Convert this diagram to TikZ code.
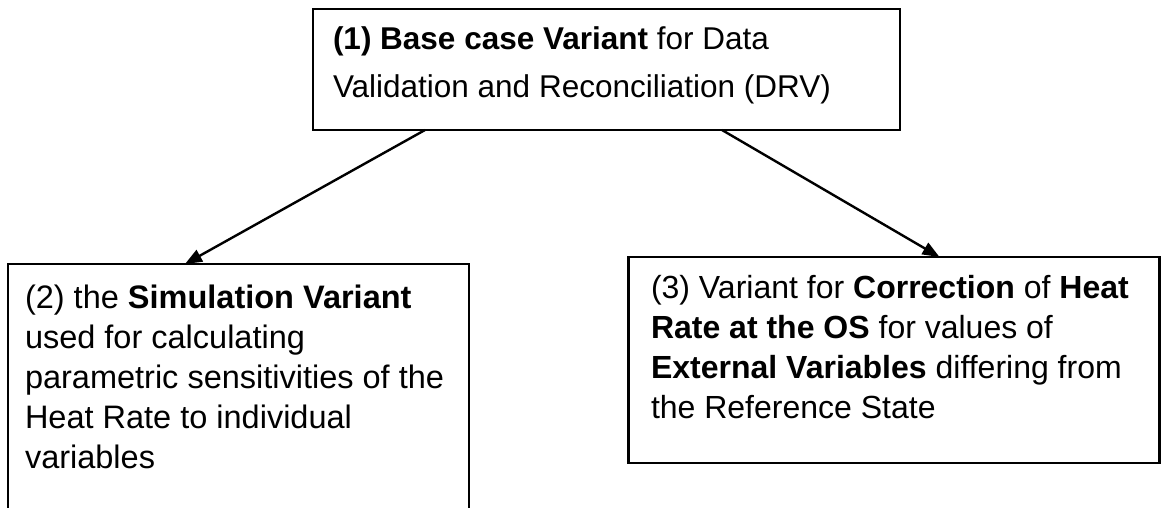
\documentclass[tikz,border=0pt]{standalone}
\usepackage{fontspec}
\setmainfont{Liberation Sans}
\usetikzlibrary{arrows.meta}
\tikzset{
  boxnode/.style={draw=black, line width=2.6pt, rectangle, inner sep=0pt, outer sep=0pt, anchor=north west},
  txt/.style={inner sep=0pt, outer sep=0pt, anchor=north west, align=left, text=black},
  toptxt/.style={txt, font=\fontsize{31.5}{48}\selectfont},
  lefttxt/.style={txt, font=\fontsize{32.5}{40}\selectfont},
  righttxt/.style={txt, font=\fontsize{32}{40}\selectfont},
  arr/.style={line width=2.4pt, -{Triangle[length=17pt,width=13pt]}},
}
\begin{document}
\begin{tikzpicture}[x=1pt,y=-1pt]
\useasboundingbox (0,0) rectangle (1161,508);
\clip (0,0) rectangle (1161,508);
\fill[white] (0,0) rectangle (1161,508);
% boxes
\node[boxnode, minimum width=587pt, minimum height=121pt] (b1) at (313,9) {};
\node[boxnode, minimum width=461pt, minimum height=300pt] (b2) at (8,264) {};
\node[boxnode, minimum width=531pt, minimum height=206pt] (b3) at (628.5,257) {};
% texts
\node[toptxt] (t1) at (333,20) {\rule{0pt}{30pt}\textbf{(1) Base case Variant} for Data\\Validation and Reconciliation (DRV)};
\node[lefttxt] (t2) at (25,278) {\rule{0pt}{30pt}(2) the \textbf{Simulation Variant}\\used for calculating\\parametric sensitivities of the\\Heat Rate to individual\\variables};
\node[righttxt] (t3) at (651,268) {\rule{0pt}{30pt}(3) Variant for \textbf{Correction} of \textbf{Heat}\\\textbf{Rate at the OS} for values of\\\textbf{External Variables} differing from\\the Reference State};
% arrows
\draw[arr] ([xshift=112pt]b1.south west) -- ([xshift=177pt]b2.north west);
\draw[arr] ([xshift=409pt]b1.south west) -- ([xshift=311pt]b3.north west);
\end{tikzpicture}
\end{document}
